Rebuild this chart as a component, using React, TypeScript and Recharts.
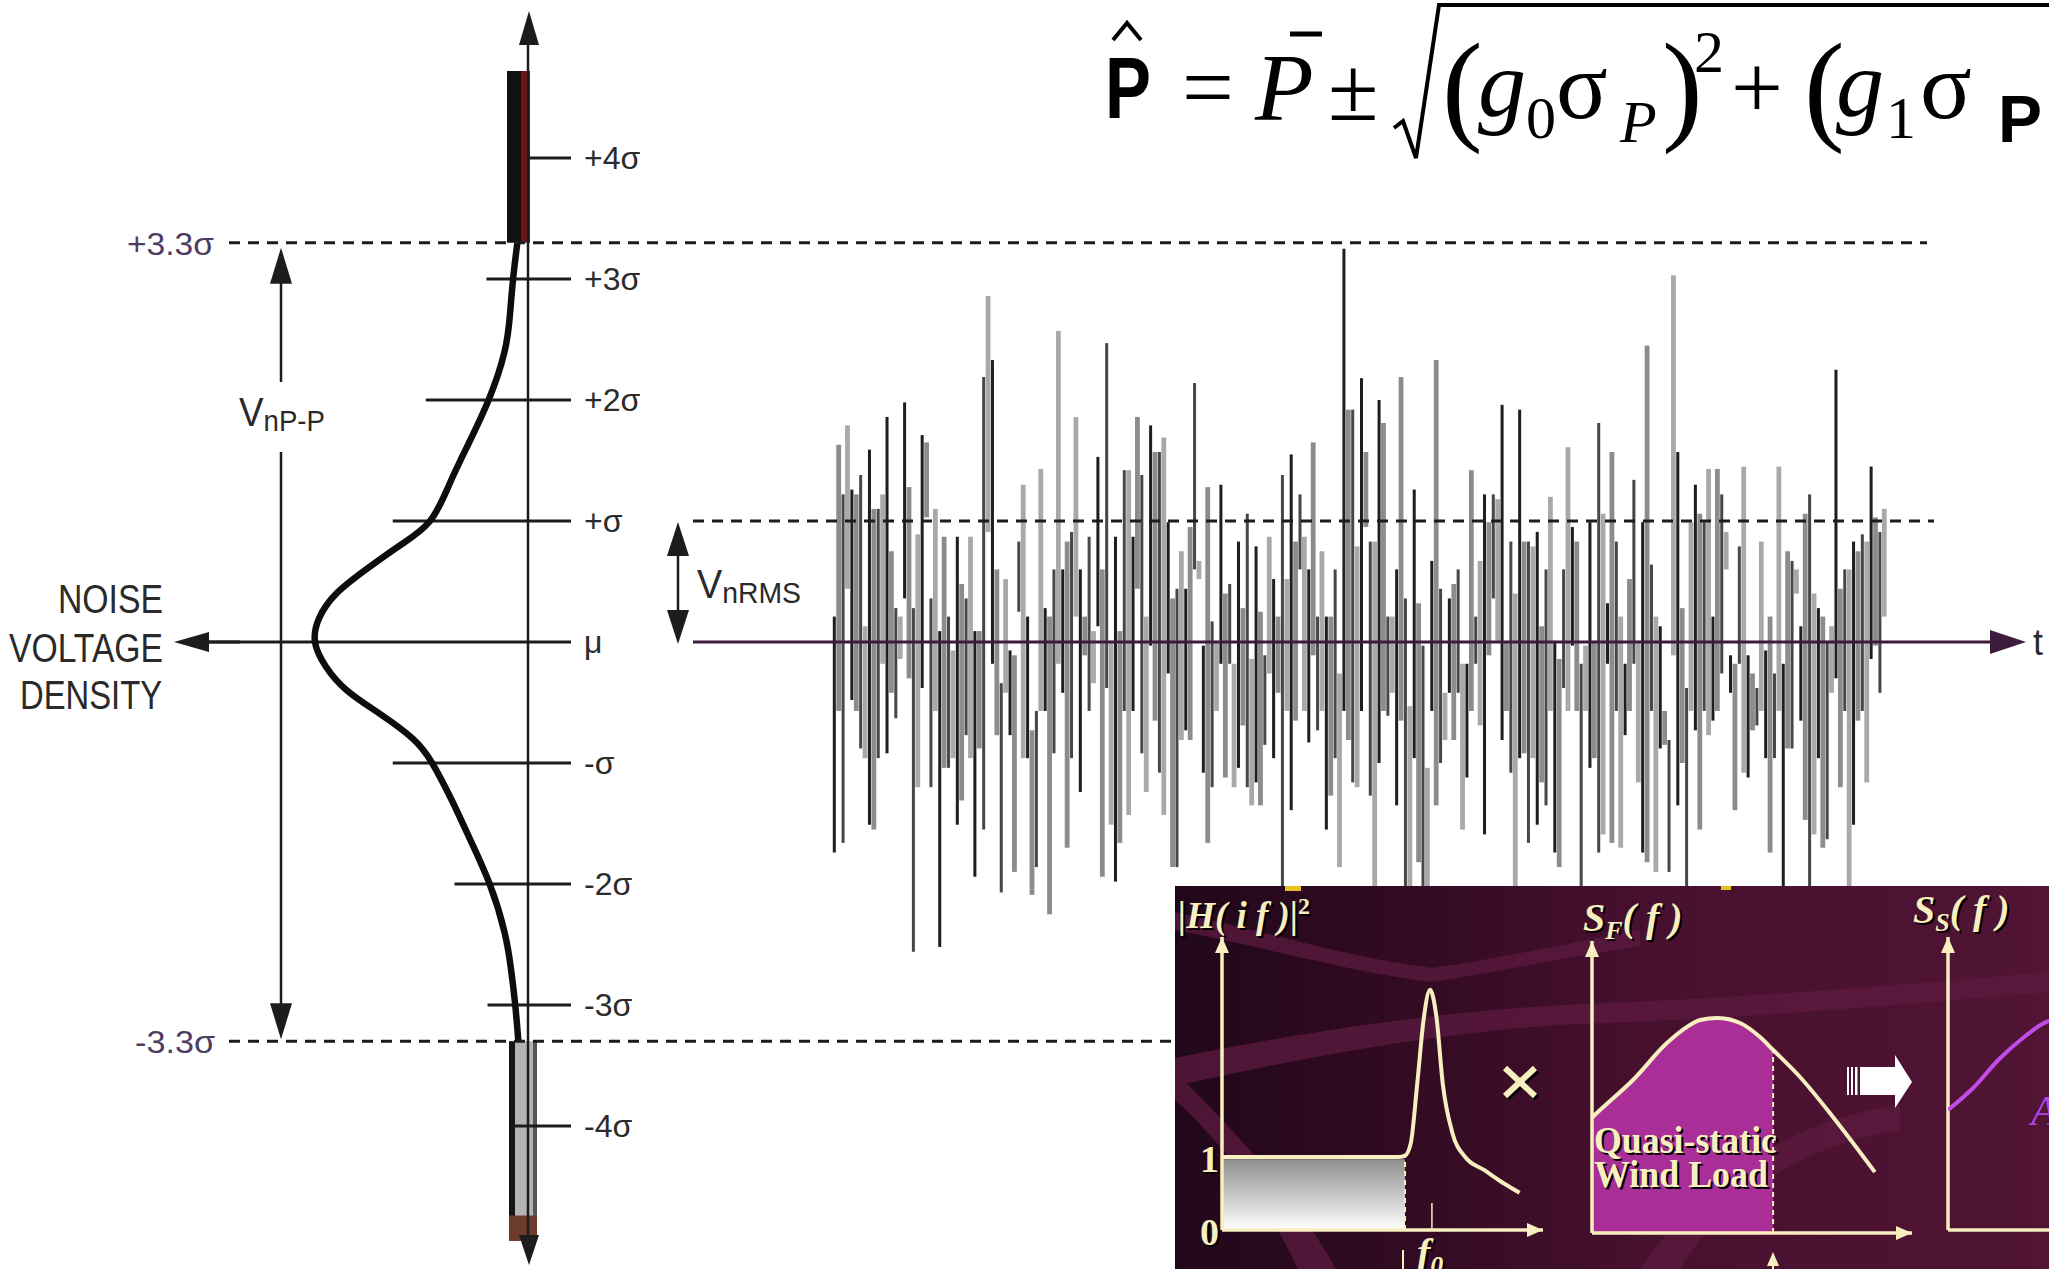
import React from "react";
import {
  Area,
  Bar,
  ComposedChart,
  Line,
  ReferenceArea,
  ReferenceLine,
  Scatter,
  XAxis,
  YAxis,
} from "recharts";

const W = 2049;
const H = 1269;

const SANS = "'Liberation Sans', Arial, Helvetica, sans-serif";
const SERIF = "'Liberation Serif', 'Times New Roman', Times, serif";
const CREAM = "#f7efbf";
const INK = "#1c1c1c";

// ---- noise voltage density, read at sigma levels (peak = 1) ----
const sigmaLevels = [
  3.3, 3.0, 2.7, 2.4, 2.0, 1.6, 1.3, 1.0, 0.8, 0.6, 0.4, 0.2, 0, -0.2, -0.4,
  -0.6, -0.8, -1.0, -1.3, -1.6, -2.0, -2.4, -2.7, -3.0, -3.3,
];
const densityValues = [
  0.05, 0.07, 0.085, 0.11, 0.185, 0.29, 0.37, 0.46, 0.6, 0.76, 0.9, 0.98, 1.0,
  0.95, 0.85, 0.69, 0.54, 0.45, 0.36, 0.28, 0.18, 0.11, 0.08, 0.06, 0.045,
];

const sigmaTicks = [4, 3, 2, 1, 0, -1, -2, -3, -4];
const sigmaTickLabels = ["+4σ", "+3σ", "+2σ", "+σ", "μ", "-σ", "-2σ", "-3σ", "-4σ"];
const peakLimit = 3.3;
const rmsLevel = 1;

// ---- noise trace: top / bottom of every stroke, in sigma ----
const noiseHigh = [
  0.21, 1.63, 1.22, 1.79, 1.26, 1.22, 1.38, 0.13, 1.59, 1.1, 1.1, 1.22, 1.86, 0.75, 0.28, 0.21,
  1.98, 1.28, 0.28, 0.89, 1.71, 1.65, 0.36, 1.1, 0.09, 0.87, 0.21, -0.07, 0.87, 0.48, 0.36, 0.87,
  0.09, 0.09, 2.19, 2.86, 2.33, 0.6, -0.34, 0.52, -0.07, -0.11, 0.83, 1.3, 0.21, -0.73, -0.57, 1.43,
  0.28, 0.21, 0.6, 2.57, 0.6, 0.83, 0.91, 1.86, 0.6, 0.21, 0.87, 0.09, 1.53, 0.6, 2.47, 0.01,
  0.87, 0.09, 1.42, 1.42, 0.87, 1.86, 1.38, 0.21, 1.79, 1.57, 1.57, 1.69, 0.99, 0.36,
  0.44, 0.75, 0.44, 0.95, 2.14, 0.67, -0.03, 1.28, 0.17, 0.01, 1.3, 0.4, 0.48, -0.18, 0.83, 0.28,
  1.06, -0.14, 0.79, 0.25, -0.11, 0.87, 0.52, 0.21, 1.38, 0.52, 1.55, 0.83, 1.22, 0.87, 0.6, 1.65,
  0.21, 0.75, 0.21, 0.21, 0.6, -0.26, 3.25, 1.92, 1.92, 0.79, 2.18, 1.57, 0.83, 0.83, 2.0, 1.81,
  0.21, 0.21, 0.6, 2.19, 0.36, -0.53, 1.26, 0.32, -0.03, -1.04, 0.67, 2.33, 0.44, -0.42, 0.36, 0.48,
  0.6, -0.18, -0.18, 1.42, 0.21, 0.67, 1.22, 0.99, 1.22, 1.18, 1.96, 0.01, 0.83, 0.4, 1.92, 0.83,
  0.83, 0.79, 0.91, 0.13, 0.6, 1.2, 0.01, -0.14, 0.6, 1.61, 0.95, 0.83, -0.18, -0.03, 0.99, 0.01,
  1.81, 1.06, 0.32, 1.57, 0.83, 0.21, -0.18, 0.52, 1.34, 0.01, 0.99, 2.45, 0.64, 0.21, 0.13, -0.57,
  -0.81, 3.03, 1.57, 0.28, -0.38, 0.99, 1.3, 1.06, 0.99, 1.43, 0.21, 1.43, 1.22, 0.91, -0.11, -0.18,
  0.79, 1.45, -0.11, -0.26, -0.38, 0.83, -0.07, 0.21, -0.26, 1.45, -0.18, 0.75, 0.67, 0.6, 0.13, 1.06,
  1.22, 0.4, 0.28, 0.21, 0.01, 0.13, 2.25, 0.44, 0.6, 0.6, 0.83, 0.75, 0.89, 0.83, 1.45, 1.03,
  0.91, 1.1,
];
const noiseLow = [
  -1.74, -0.57, -1.66, 0.44, -0.48, -0.57, -0.88, -0.96, -1.51, -1.55, -0.96, -0.18, -0.92, -0.42, -0.63, -0.14,
  0.36, -0.3, -2.56, -1.2, -0.38, 1.03, -1.2, -0.57, -2.52, -1.04, -1.04, -0.96, -1.51, -1.31, -0.77, -0.96,
  -1.94, -0.88, -1.55, 0.91, -0.18, -0.77, -2.07, -0.42, -0.77, -1.9, 0.25, -0.96, -0.96, -2.09, -1.86, -0.57,
  -0.57, -2.25, -0.92, -0.18, -0.42, -1.7, -0.96, 0.21, -1.24, -0.11, -0.57, -0.34, 0.13, -1.94, -0.38, -1.51,
  -1.98, -1.66, -0.57, -1.43, -0.57, 0.44, -0.92, -1.24, -0.03, -0.65, -1.08, -1.43, -0.26, -1.86,
  -1.86, -0.81, -0.73, -0.81, 0.6, 0.52, -1.08, -1.66, -1.2, -0.57, -0.18, -1.12, -0.18, -1.2, -1.04, -0.69,
  -1.2, -1.35, -1.16, -1.35, -0.85, -0.26, -0.96, -0.42, -2.2, -0.57, -1.39, -0.65, 0.6, -0.57, -0.83, -0.11,
  -0.73, -0.57, -1.55, -1.27, -0.96, -1.86, -0.57, -0.81, -1.16, -1.2, -0.57, 0.95, -1.27, -2.2, -1.0, -0.57,
  -0.61, -0.42, -1.35, -0.65, -2.2, -2.2, -0.96, -1.82, -2.2, -2.2, -0.57, -1.35, -1.0, -0.81, -0.42, -0.81,
  -0.42, -1.55, -1.12, -0.57, -0.18, -0.69, -1.59, -0.11, 0.36, 0.01, -0.81, -0.57, -1.08, -2.2, -0.96, -0.92,
  -1.66, -0.96, -1.51, -1.16, -1.35, -0.57, -1.74, -1.86, -0.38, -0.57, -0.03, -0.57, -2.2, -0.57, -1.04, -0.96,
  -1.74, -1.59, -0.18, -1.66, -0.57, -1.7, -0.77, -0.57, -0.18, -1.16, -1.74, -1.82, -0.57, -1.9, -0.88, -0.85,
  -1.9, -0.11, -1.35, -1.0, -2.2, -0.57, -0.73, -1.55, -0.57, -0.77, -0.65, -0.57, -0.26, 0.6, -0.42, -1.39,
  -0.18, -1.08, -1.12, -0.73, -0.69, -0.57, -0.96, -1.74, -0.96, -0.57, -2.2, -0.88, -0.88, 0.4, -0.65, -1.47,
  -2.2, -1.59, -0.96, -1.7, -1.63, -0.42, -0.3, -1.2, -0.57, -2.2, -1.51, -0.65, -0.57, -1.16, -0.14, -0.03,
  -0.42, 0.21,
];
const noiseTones = ["#1e1e1e", "#8c8c8c", "#474747", "#a9a9a9"];

// ---- inset: |H(if)|^2, S_F(f), S_S(f) ----
const hFreq = [0, 2.5, 5.0, 5.5, 5.72, 5.9, 6.1, 6.3, 6.5, 6.7, 6.9, 7.2, 7.6, 8.2, 8.8, 9.3];
const hGain = [1, 1, 1, 1, 1.02, 1.19, 2.0, 2.88, 3.29, 2.92, 2.0, 1.33, 1.0, 0.82, 0.64, 0.51];
const plateauEnd = 5.72;
const naturalFreq = 6.56;

const sfFreq = [0, 0.25, 1.28, 2.34, 2.97, 3.38, 3.91, 4.63, 5.25, 5.66, 6.5, 7.53, 8.84];
const sfValues = [3.85, 4.1, 5.1, 6.33, 6.87, 7.1, 7.17, 7.0, 6.53, 6.1, 5.2, 3.87, 2.03];
const quasiStaticCut = 5.66;

const ssFreq = [0, 0.8, 1.6, 2.4, 3.0, 3.6];
const ssValues = [4.0, 4.75, 5.7, 6.45, 6.9, 7.1];

// shared vertical scale of the left figure (sigma units)
const MU_Y = 642;
const SIGMA_PX = 121;
const V_TOP = MU_Y / SIGMA_PX;
const V_BOTTOM = -(H - MU_Y) / SIGMA_PX;
const yOf = (v: number) => MU_Y - SIGMA_PX * v;

// density axis: 0 on the vertical axis line, 1 at the bell's peak
const AXIS_X = 528;
const PEAK_X = 315;
const PLOT_RIGHT = 565;
const LABEL_AXIS_W = 120;
const DENS_PX = AXIS_X - PEAK_X;
const dAt = (px: number) => (AXIS_X - px) / DENS_PX;
const tickStart = [0, 0.195, 0.48, 0.635, 1.5, 0.635, 0.345, 0.19, 0.07];

const up = (x: number, tip: number, len: number, half: number) =>
  `${x},${tip} ${x - half},${tip + len} ${x + half},${tip + len}`;
const down = (x: number, tip: number, len: number, half: number) =>
  `${x},${tip} ${x - half},${tip - len} ${x + half},${tip - len}`;
const toLeft = (tip: number, y: number, len: number, half: number) =>
  `${tip},${y} ${tip + len},${y - half} ${tip + len},${y + half}`;
const toRight = (tip: number, y: number, len: number, half: number) =>
  `${tip},${y} ${tip - len},${y - half} ${tip - len},${y + half}`;

const layer: React.CSSProperties = { position: "absolute", left: 0, top: 0 };

function DensityPanel() {
  const curve = sigmaLevels.map((s, k) => ({ s, d: densityValues[k] }));
  return (
    <div style={layer}>
      <ComposedChart
        width={W}
        height={H}
        margin={{ top: 0, right: W - PLOT_RIGHT - LABEL_AXIS_W, bottom: 0, left: 0 }}
      >
        <XAxis type="number" dataKey="d" domain={[dAt(PLOT_RIGHT), dAt(0)]} reversed hide allowDataOverflow />
        <YAxis
          type="number"
          dataKey="s"
          orientation="right"
          width={LABEL_AXIS_W}
          domain={[V_BOTTOM, V_TOP]}
          allowDataOverflow
          ticks={sigmaTicks}
          interval={0}
          tickFormatter={(v: number) => sigmaTickLabels[sigmaTicks.indexOf(v)] ?? ""}
          axisLine={false}
          tickLine={false}
          tickSize={0}
          tickMargin={19}
          tick={{ fontSize: 32, fill: "#2b2b2b", fontFamily: SANS }}
        />
        {/* saturated tails above / below +-3.3 sigma */}
        <ReferenceArea x1={dAt(507)} x2={dAt(521)} y1={peakLimit} y2={4.72} fill="#111" fillOpacity={1} ifOverflow="visible" />
        <ReferenceArea x1={dAt(521)} x2={dAt(530)} y1={peakLimit} y2={4.72} fill="#6e1616" fillOpacity={1} ifOverflow="visible" />
        <ReferenceArea x1={dAt(509)} x2={dAt(537)} y1={-peakLimit} y2={-4.88} fill="#b4b4b4" fillOpacity={1} ifOverflow="visible" />
        <ReferenceArea x1={dAt(509)} x2={dAt(515)} y1={-peakLimit} y2={-4.88} fill="#151515" fillOpacity={1} ifOverflow="visible" />
        <ReferenceArea x1={dAt(533)} x2={dAt(537)} y1={-peakLimit} y2={-4.88} fill="#555" fillOpacity={1} ifOverflow="visible" />
        <ReferenceArea x1={dAt(509)} x2={dAt(537)} y1={-4.74} y2={-4.95} fill="#6b3c2c" fillOpacity={1} ifOverflow="visible" />
        <ReferenceLine
          segment={[{ x: 0, y: (MU_Y - 44) / SIGMA_PX }, { x: 0, y: -(1238 - MU_Y) / SIGMA_PX }]}
          stroke={INK}
          strokeWidth={2.5}
          ifOverflow="visible"
        />
        {sigmaTicks.map((s, k) => (
          <ReferenceLine
            key={s}
            segment={[{ x: tickStart[k], y: s }, { x: dAt(571), y: s }]}
            stroke={INK}
            strokeWidth={3}
            ifOverflow="visible"
          />
        ))}
        <Scatter
          data={curve}
          line={{ stroke: "#0d0d0d", strokeWidth: 6.5 }}
          lineJointType="natural"
          shape={() => <g />}
          isAnimationActive={false}
        />
      </ComposedChart>
    </div>
  );
}

const NOISE_LEFT = 834;
const NOISE_RIGHT = 1884;

function NoiseStroke(props: any) {
  const { x, y, width, height, index } = props;
  if (x == null || y == null) return <g />;
  const light = index % 2 === 1;
  const w = light ? 4.8 : 3;
  const cx = x + width / 2;
  const top = Math.min(y, y + height);
  return (
    <rect
      x={cx - w / 2}
      y={top}
      width={w}
      height={Math.abs(height)}
      fill={noiseTones[index % noiseTones.length]}
    />
  );
}

function NoisePanel() {
  const step = (NOISE_RIGHT - NOISE_LEFT) / (noiseHigh.length - 1);
  const tAt = (px: number) => (px - NOISE_LEFT) / step;
  const rows = noiseHigh.map((hi, i) => ({ i, range: [noiseLow[i], hi] }));
  const dash = { stroke: INK, strokeWidth: 3, strokeDasharray: "11 8", ifOverflow: "visible" as const };
  return (
    <div style={layer}>
      <ComposedChart width={W} height={H} data={rows} margin={{ top: 0, right: 0, bottom: 0, left: 0 }}>
        <XAxis type="number" dataKey="i" domain={[tAt(0), tAt(W)]} hide allowDataOverflow />
        <YAxis type="number" domain={[V_BOTTOM, V_TOP]} hide allowDataOverflow />
        <Bar dataKey="range" barSize={3} shape={NoiseStroke} isAnimationActive={false} />
        <ReferenceLine segment={[{ x: tAt(229), y: peakLimit }, { x: tAt(1927), y: peakLimit }]} {...dash} />
        <ReferenceLine segment={[{ x: tAt(229), y: -peakLimit }, { x: tAt(1180), y: -peakLimit }]} {...dash} />
        <ReferenceLine segment={[{ x: tAt(693), y: rmsLevel }, { x: tAt(1934), y: rmsLevel }]} {...dash} />
        <ReferenceLine
          segment={[{ x: tAt(693), y: 0 }, { x: tAt(1994), y: 0 }]}
          stroke="#3b1c3d"
          strokeWidth={3}
          ifOverflow="visible"
        />
      </ComposedChart>
    </div>
  );
}

function Annotations() {
  const pTop = yOf(peakLimit);
  const pBottom = yOf(-peakLimit);
  return (
    <svg style={layer} width={W} height={H}>
      {/* axis arrows */}
      <polygon points={up(529, 11, 34, 10)} fill={INK} />
      <polygon points={down(529, 1265, 30, 10)} fill={INK} />
      <polygon points={toLeft(174, MU_Y, 35, 10)} fill={INK} />
      <line x1={209} y1={MU_Y} x2={240} y2={MU_Y} stroke={INK} strokeWidth={3} />
      <polygon points={toRight(2026, MU_Y, 36, 12)} fill="#3b1c3d" />

      {/* peak-to-peak span */}
      <line x1={281} y1={pTop + 36} x2={281} y2={382} stroke={INK} strokeWidth={2.5} />
      <line x1={281} y1={452} x2={281} y2={pBottom - 36} stroke={INK} strokeWidth={2.5} />
      <polygon points={up(281, pTop + 5, 36, 11)} fill={INK} />
      <polygon points={down(281, pBottom - 2, 36, 11)} fill={INK} />

      {/* rms span */}
      <line x1={678} y1={yOf(rmsLevel) + 34} x2={678} y2={yOf(0) - 32} stroke={INK} strokeWidth={2.5} />
      <polygon points={up(678, yOf(rmsLevel) + 1, 34, 11)} fill={INK} />
      <polygon points={down(678, yOf(0) + 2, 34, 11)} fill={INK} />

      <g fontFamily={SANS} fill="#2a2a2a">
        <text x={58} y={613} fontSize={40} textLength={105} lengthAdjust="spacingAndGlyphs">NOISE</text>
        <text x={9} y={662} fontSize={40} textLength={154} lengthAdjust="spacingAndGlyphs">VOLTAGE</text>
        <text x={20} y={709} fontSize={40} textLength={142} lengthAdjust="spacingAndGlyphs">DENSITY</text>
        <text x={239} y={426} textLength={86} lengthAdjust="spacingAndGlyphs">
          <tspan fontSize={40}>V</tspan>
          <tspan fontSize={30} dy={5}>nP-P</tspan>
        </text>
        <text x={697} y={598} textLength={104} lengthAdjust="spacingAndGlyphs">
          <tspan fontSize={40}>V</tspan>
          <tspan fontSize={30} dy={5}>nRMS</tspan>
        </text>
        <text x={2033} y={655} fontSize={36}>t</text>
      </g>
      <g fontFamily={SANS} fill="#4d3d62" fontSize={32}>
        <text x={127} y={pTop + 12} textLength={87} lengthAdjust="spacingAndGlyphs">+3.3σ</text>
        <text x={135} y={pBottom + 12} textLength={80} lengthAdjust="spacingAndGlyphs">-3.3σ</text>
      </g>

      {/* peak estimate */}
      <g fontFamily={SERIF} fill="#000">
        <text x={1105} y={118} fontFamily={SANS} fontWeight="bold" fontSize={88} textLength={46} lengthAdjust="spacingAndGlyphs">P</text>
        <path d="M1113,40 L1127,23 L1141,40" stroke="#000" strokeWidth={4} fill="none" />
        <text x={1182} y={118} fontSize={92}>=</text>
        <text x={1255} y={120} fontSize={96} fontStyle="italic">P</text>
        <line x1={1290} y1={34} x2={1322} y2={34} stroke="#000" strokeWidth={5} />
        <text x={1328} y={120} fontSize={92}>±</text>
        <path d="M1394,128 L1403,121 L1416,158 L1439,5 L2049,5" stroke="#000" strokeWidth={4} fill="none" />
        <text x={1442} y={128} fontSize={122}>(</text>
        <text x={1478} y={116} fontSize={96} fontStyle="italic">g</text>
        <text x={1526} y={138} fontSize={60}>0</text>
        <text x={1556} y={118} fontSize={96}>σ</text>
        <text x={1620} y={142} fontSize={60} fontStyle="italic">P</text>
        <text x={1662} y={128} fontSize={122}>)</text>
        <text x={1694} y={72} fontSize={60}>2</text>
        <text x={1731} y={118} fontSize={92}>+</text>
        <text x={1804} y={128} fontSize={122}>(</text>
        <text x={1836} y={116} fontSize={96} fontStyle="italic">g</text>
        <text x={1886} y={138} fontSize={60}>1</text>
        <text x={1920} y={118} fontSize={96}>σ</text>
        <text x={1998} y={142} fontFamily={SANS} fontWeight="bold" fontSize={66}>P</text>
      </g>
    </svg>
  );
}

// ---- inset ----
const INSET_X = 1175;
const INSET_Y = 886;
const PAD = 14;

type Plot = { x: number; y: number; w: number; h: number; xMax: number; yMax: number };
const hPlot: Plot = { x: 1222, y: 937, w: 321, h: 293, xMax: 321 / 32, yMax: 293 / 73 };
const sfPlot: Plot = { x: 1592, y: 941, w: 320, h: 292, xMax: 10, yMax: 292 / 30 };
const ssPlot: Plot = { x: 1948, y: 937, w: 320, h: 293, xMax: 10, yMax: 293 / 30 };

function MiniChart({ plot, data, children }: { plot: Plot; data: any[]; children: React.ReactNode }) {
  return (
    <div style={{ position: "absolute", left: plot.x - PAD - INSET_X, top: plot.y - PAD - INSET_Y }}>
      <ComposedChart
        width={plot.w + 2 * PAD}
        height={plot.h + 2 * PAD}
        data={data}
        margin={{ top: PAD, right: PAD, bottom: PAD, left: PAD }}
      >
        <XAxis type="number" dataKey="f" domain={[0, plot.xMax]} hide allowDataOverflow />
        <YAxis type="number" domain={[0, plot.yMax]} hide allowDataOverflow />
        <ReferenceLine segment={[{ x: 0, y: 0 }, { x: 0, y: plot.yMax }]} stroke={CREAM} strokeWidth={3.5} ifOverflow="visible" />
        <ReferenceLine segment={[{ x: 0, y: 0 }, { x: plot.xMax, y: 0 }]} stroke={CREAM} strokeWidth={3.5} ifOverflow="visible" />
        {children}
      </ComposedChart>
    </div>
  );
}

function PlateauFill(p: any) {
  return (
    <g>
      <defs>
        <linearGradient id="plateauFill" x1="0" y1="0" x2="0" y2="1">
          <stop offset="0%" stopColor="#8f8f8f" />
          <stop offset="100%" stopColor="#ffffff" />
        </linearGradient>
      </defs>
      <rect x={p.x} y={p.y} width={p.width} height={p.height} fill="url(#plateauFill)" />
    </g>
  );
}

function Shadowed({ children, ...rest }: any) {
  return (
    <g>
      <text {...rest} fill="#000" transform="translate(2,2)">{children}</text>
      <text {...rest} fill={CREAM}>{children}</text>
    </g>
  );
}

function Inset() {
  const hRows = hFreq.map((f, k) => ({ f, g: hGain[k] }));
  const sfRows = sfFreq.map((f, k) => ({
    f,
    s: sfValues[k],
    quasi: f <= quasiStaticCut ? sfValues[k] : null,
  }));
  const ssRows = ssFreq.map((f, k) => ({ f, s: ssValues[k] }));
  const pageLayer: React.CSSProperties = { position: "absolute", left: -INSET_X, top: -INSET_Y };
  const italicBold = { fontFamily: SERIF, fontWeight: "bold", fontStyle: "italic" };
  return (
    <div
      style={{
        position: "absolute",
        left: INSET_X,
        top: INSET_Y,
        width: W - INSET_X,
        height: H - INSET_Y,
        overflow: "hidden",
        background: "linear-gradient(90deg, #22071a 0%, #330b23 28%, #48102f 55%, #511434 100%)",
      }}
    >
      <svg style={pageLayer} width={W} height={H}>
        <g fill="#5c1a3f" opacity={0.75}>
          <path d="M1175,912 C1260,930 1350,958 1432,968 C1500,958 1560,945 1640,930 L1640,946 C1560,958 1500,972 1432,982 C1350,972 1260,946 1175,930 Z" />
          <path d="M1175,1058 C1300,1032 1450,1010 1580,1004 C1700,1000 1850,990 2049,972 L2049,992 C1850,1010 1700,1020 1580,1024 C1450,1030 1300,1058 1175,1086 Z" />
          <path d="M1175,1100 C1230,1150 1270,1210 1298,1269 L1336,1269 C1300,1205 1250,1145 1175,1072 Z" />
          <path d="M1640,1269 C1700,1180 1790,1120 1900,1105 L1900,1130 C1800,1145 1720,1200 1680,1269 Z" />
        </g>
      </svg>

      <MiniChart plot={hPlot} data={hRows}>
        <ReferenceArea x1={0} x2={plateauEnd} y1={0} y2={0.97} shape={PlateauFill} ifOverflow="visible" />
        <ReferenceLine
          segment={[{ x: plateauEnd, y: 0 }, { x: plateauEnd, y: 1 }]}
          stroke={CREAM}
          strokeWidth={2}
          strokeDasharray="5 4"
        />
        <ReferenceLine
          segment={[{ x: naturalFreq, y: 0 }, { x: naturalFreq, y: 0.37 }]}
          stroke={CREAM}
          strokeWidth={1.5}
        />
        <Line type="monotone" dataKey="g" stroke={CREAM} strokeWidth={4} dot={false} isAnimationActive={false} />
      </MiniChart>

      <MiniChart plot={sfPlot} data={sfRows}>
        <Area type="monotone" dataKey="quasi" stroke="none" fill="#a92e97" fillOpacity={1} isAnimationActive={false} />
        <ReferenceLine
          segment={[{ x: quasiStaticCut, y: 0 }, { x: quasiStaticCut, y: 6.1 }]}
          stroke={CREAM}
          strokeWidth={2}
          strokeDasharray="5 4"
        />
        <Line type="monotone" dataKey="s" stroke={CREAM} strokeWidth={4} dot={false} isAnimationActive={false} />
      </MiniChart>

      <MiniChart plot={ssPlot} data={ssRows}>
        <Line type="monotone" dataKey="s" stroke="#c24ce8" strokeWidth={4} dot={false} isAnimationActive={false} />
      </MiniChart>

      <svg style={pageLayer} width={W} height={H}>
        <g fill={CREAM}>
          <polygon points={up(hPlot.x, hPlot.y, 16, 7)} />
          <polygon points={toRight(hPlot.x + hPlot.w, hPlot.y + hPlot.h, 16, 7)} />
          <polygon points={up(sfPlot.x, sfPlot.y, 16, 7)} />
          <polygon points={toRight(sfPlot.x + sfPlot.w, sfPlot.y + sfPlot.h, 16, 7)} />
          <polygon points={up(ssPlot.x, ssPlot.y, 16, 7)} />
          <polygon points={up(1773, 1252, 14, 6)} />
        </g>
        <line x1={1773} y1={1262} x2={1773} y2={1269} stroke={CREAM} strokeWidth={2} />
        <line x1={1403} y1={1250} x2={1403} y2={1269} stroke={CREAM} strokeWidth={2} />

        <Shadowed x={1178} y={928} fontSize={37} {...italicBold}>
          |H( i f )|<tspan fontSize={24} dy={-14} fontStyle="normal">2</tspan>
        </Shadowed>
        <Shadowed x={1583} y={931} fontSize={40} {...italicBold}>
          S<tspan fontSize={26} dy={8}>F</tspan><tspan dy={-8}>( f )</tspan>
        </Shadowed>
        <Shadowed x={1913} y={923} fontSize={40} {...italicBold}>
          S<tspan fontSize={26} dy={8}>S</tspan><tspan dy={-8}>( f )</tspan>
        </Shadowed>
        <Shadowed x={1200} y={1172} fontSize={38} fontFamily={SERIF} fontWeight="bold">1</Shadowed>
        <Shadowed x={1200} y={1245} fontSize={38} fontFamily={SERIF} fontWeight="bold">0</Shadowed>
        <Shadowed x={1417} y={1266} fontSize={40} {...italicBold}>
          f<tspan fontSize={26} dy={8}>0</tspan>
        </Shadowed>
        <Shadowed x={1594} y={1153} fontSize={38} fontFamily={SERIF} fontWeight="bold" textLength={183} lengthAdjust="spacingAndGlyphs">
          Quasi-static
        </Shadowed>
        <Shadowed x={1594} y={1187} fontSize={38} fontFamily={SERIF} fontWeight="bold" textLength={174} lengthAdjust="spacingAndGlyphs">
          Wind Load
        </Shadowed>
        <text x={2031} y={1125} fontSize={42} fontFamily={SERIF} fontStyle="italic" fill="#b444e6">A</text>

        {/* multiply sign */}
        <g stroke="#000" strokeWidth={6} transform="translate(2,2)">
          <line x1={1505} y1={1068} x2={1535} y2={1096} />
          <line x1={1535} y1={1068} x2={1505} y2={1096} />
        </g>
        <g stroke={CREAM} strokeWidth={6}>
          <line x1={1505} y1={1068} x2={1535} y2={1096} />
          <line x1={1535} y1={1068} x2={1505} y2={1096} />
        </g>

        {/* block arrow */}
        <g fill="#ffffff">
          <rect x={1847} y={1067} width={2} height={28} />
          <rect x={1851} y={1067} width={2} height={28} />
          <rect x={1855} y={1067} width={2.5} height={28} />
          <rect x={1860} y={1067} width={36} height={28} />
          <polygon points="1895,1055 1912,1082 1895,1108" />
        </g>

        <rect x={1285} y={885} width={16} height={6} fill="#e8c020" />
        <rect x={1721} y={885} width={10} height={5} fill="#e8c020" />
      </svg>
    </div>
  );
}

export default function App() {
  return (
    <div
      style={{
        position: "absolute",
        left: 0,
        top: 0,
        width: W,
        height: H,
        overflow: "hidden",
        background: "#ffffff",
      }}
    >
      <DensityPanel />
      <NoisePanel />
      <Annotations />
      <Inset />
    </div>
  );
}
